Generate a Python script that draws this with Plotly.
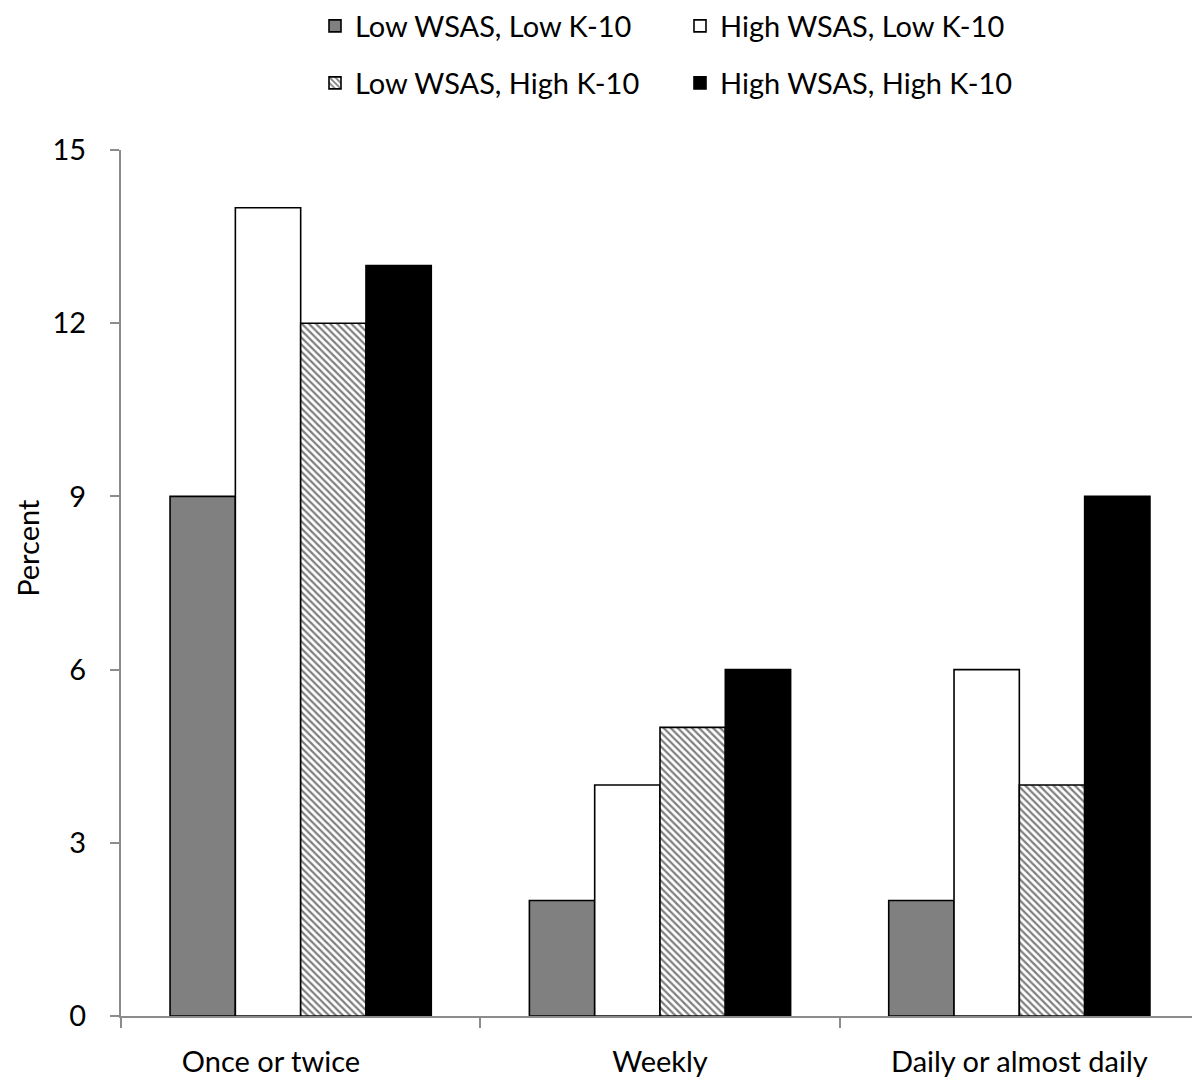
import plotly.graph_objects as go

categories = ["Once or twice", "Weekly", "Daily or almost daily"]
category_labels = ["Once or twice" + "\u00a0" * 8, "Weekly", "Daily or almost daily"]
series_names = ["Low WSAS, Low K-10", "High WSAS, Low K-10", "Low WSAS, High K-10", "High WSAS, High K-10"]
low_low = [9, 2, 2]
high_low = [14, 4, 6]
low_high = [12, 5, 4]
high_high = [13, 6, 9]
y_ticks = [0, 3, 6, 9, 12, 15]

FONT = "Lato"
FS = 29
W, H = 1192, 1071
series = [low_low, high_low, low_high, high_high]
fills = ["#808080", "#ffffff", "#ffffff", "#000000"]
patterns = [None, None, dict(shape="\\", size=5, solidity=0.45, fgcolor="#000000", bgcolor="#ffffff"), None]
legends = ["legend", "legend", "legend2", "legend2"]

fig = go.Figure()
for name, vals, fc, pat, lg in zip(series_names, series, fills, patterns, legends):
    marker = dict(color=fc, line=dict(color="#000000", width=1.6))
    if pat:
        marker["pattern"] = pat
    fig.add_trace(go.Bar(name=name, x=categories, y=vals, marker=marker, legend=lg))

leg_common = dict(orientation="h", xanchor="left", yanchor="middle", xref="container", yref="container",
                  font=dict(family=FONT, size=FS, color="#000000"), entrywidth=320, entrywidthmode="pixels",
                  bgcolor="rgba(0,0,0,0)", itemclick=False)
fig.update_layout(
    width=W, height=H,
    margin=dict(l=113, r=1, t=142, b=63),
    paper_bgcolor="#ffffff", plot_bgcolor="#ffffff",
    barmode="group", bargap=0.273, bargroupgap=0,
    font=dict(family=FONT, size=FS, color="#000000"),
    legend=dict(x=307 / W, y=1 - 18 / H, **leg_common),
    legend2=dict(x=307 / W, y=1 - 75 / H, **leg_common),
    xaxis=dict(showline=True, linecolor="#8c8c8c", linewidth=2, ticks="outside", tickson="boundaries",
               ticklen=10, tickcolor="#8c8c8c", tickwidth=2, showgrid=False, automargin=False,
               tickmode="array", tickvals=categories, ticktext=category_labels,
               tickfont=dict(family=FONT, size=FS), ticklabelstandoff=19, range=[-0.5, 2.5]),
    yaxis=dict(showline=True, linecolor="#8c8c8c", linewidth=2, ticks="outside", ticklen=9,
               tickcolor="#8c8c8c", tickwidth=2, showgrid=False, zeroline=False, automargin=False,
               range=[0, 15], tickvals=y_ticks, tickfont=dict(family=FONT, size=FS),
               ticklabelstandoff=18),
    annotations=[dict(text="Percent", textangle=-90, xref="paper", yref="paper", x=-113 / 1078, xanchor="left",
                      y=0.54, yanchor="middle", showarrow=False,
                      font=dict(family=FONT, size=FS, color="#000000"))],
)
fig.write_html("out.html")
